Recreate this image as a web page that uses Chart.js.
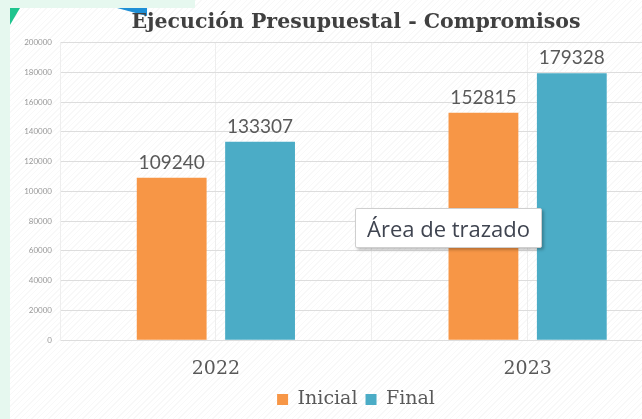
<!DOCTYPE html>
<html>
<head>
<meta charset="utf-8">
<script src="https://cdn.jsdelivr.net/npm/chart.js@4.4.1/dist/chart.umd.min.js"></script>
<style>
  html, body { margin: 0; padding: 0; width: 642px; height: 419px; overflow: hidden; background: #fff; }
  #bg {
    position: absolute; left: 10px; top: 0; width: 632px; height: 419px;
    background: repeating-linear-gradient(135deg, #ffffff 0 3px, #f8f8f8 3px 4px);
  }
  #strip { position: absolute; left: 0; top: 0; width: 10px; height: 419px; background: #e6f8ef; }
  #band { position: absolute; left: 0; top: 0; width: 195px; height: 8px; background: #e6f8ef; }
  #triG { position: absolute; left: 10px; top: 8px; width: 10px; height: 17px; background: #1fc48e; clip-path: polygon(0 0, 100% 0, 0 100%); }
  #triB { position: absolute; left: 117px; top: 8px; width: 30px; height: 8px; background: #1e8fd6; clip-path: polygon(0 0, 100% 0, 100% 100%); }
  #wrap { position: absolute; left: 10px; top: 0; }
  #tip {
    position: absolute; left: 355px; top: 208px; width: 187px; height: 40px;
    background: #fff; border: 1px solid #cfcfcf; border-radius: 2px;
    box-shadow: 2px 2px 3px rgba(0,0,0,0.25);
    font: 22px "Open Sans", "Noto Sans", sans-serif; color: #3f4450;
    line-height: 38px; text-align: center; box-sizing: border-box;
  }
</style>
</head>
<body>
<div id="bg"></div>
<div id="strip"></div>
<div id="band"></div>
<div id="triG"></div>
<div id="triB"></div>
<div id="wrap"><canvas id="chart" width="692" height="419"></canvas></div>
<div id="tip">Área de trazado</div>
<script>
const categories = ['2022', '2023'];
const inicial = [109240, 152815];
const final = [133307, 179328];
const yTicks = [0, 20000, 40000, 60000, 80000, 100000, 120000, 140000, 160000, 180000, 200000];
const seriesNames = ['Inicial', 'Final'];

// draw the value above each bar
const valueLabels = {
  id: 'valueLabels',
  afterDatasetsDraw(chart) {
    const ctx = chart.ctx;
    ctx.save();
    ctx.font = '19px Lato';
    ctx.fillStyle = '#595959';
    ctx.textAlign = 'center';
    ctx.textBaseline = 'alphabetic';
    chart.data.datasets.forEach((ds, i) => {
      chart.getDatasetMeta(i).data.forEach((bar, j) => {
        ctx.fillText(String(ds.data[j]), bar.x, bar.y - 9);
      });
    });
    ctx.restore();
  }
};

new Chart(document.getElementById('chart'), {
  type: 'bar',
  data: {
    labels: categories,
    datasets: [
      { label: seriesNames[0], data: inicial, backgroundColor: '#f79646', xAxisID: 'x' },
      { label: seriesNames[1], data: final, backgroundColor: '#4bacc6', xAxisID: 'x' }
    ]
  },
  options: {
    responsive: false,
    devicePixelRatio: 1,
    animation: false,
    categoryPercentage: 0.567,
    barPercentage: 0.79,
    layout: { padding: 0 },
    plugins: {
      title: {
        display: true,
        text: 'Ejecución Presupuestal - Compromisos',
        color: '#404040',
        font: { family: 'DejaVu Serif', size: 20.5, weight: 'bold' },
        padding: { top: 10, bottom: 8 }
      },
      legend: {
        position: 'bottom',
        labels: {
          boxWidth: 11,
          boxHeight: 11,
          padding: 8,
          color: '#595959',
          font: { family: 'DejaVu Serif', size: 19 }
        }
      },
      tooltip: { enabled: false }
    },
    scales: {
      x: {
        afterFit(scale) { scale.height = scale.height - 15; },
        grid: { offset: true, color: '#eeeeee', drawTicks: false },
        border: { display: false },
        ticks: { color: '#595959', padding: 17, font: { family: 'DejaVu Serif', size: 19 } }
      },
      x2: {
        type: 'category',
        labels: categories,
        position: 'top',
        offset: true,
        grid: { offset: false, color: '#eeeeee', drawTicks: false },
        border: { display: false },
        ticks: { display: false }
      },
      y: {
        min: 0,
        max: 200000,
        afterBuildTicks(scale) { scale.ticks = yTicks.map(v => ({ value: v })); },
        afterFit(scale) { scale.width = 50; },
        grid: { color: '#dddddd', drawTicks: false },
        border: { display: true, color: '#eeeeee' },
        ticks: {
          color: '#999999',
          padding: 8,
          font: { family: 'Lato', size: 8 },
          callback: v => String(v)
        }
      },
      // empty axis on the right so the plot runs past the visible edge
      y2: {
        position: 'right',
        min: 0,
        max: 200000,
        afterFit(scale) { scale.width = 18.5; },
        grid: { display: false },
        border: { display: false },
        ticks: { display: false }
      }
    }
  },
  plugins: [valueLabels]
});
</script>
</body>
</html>
